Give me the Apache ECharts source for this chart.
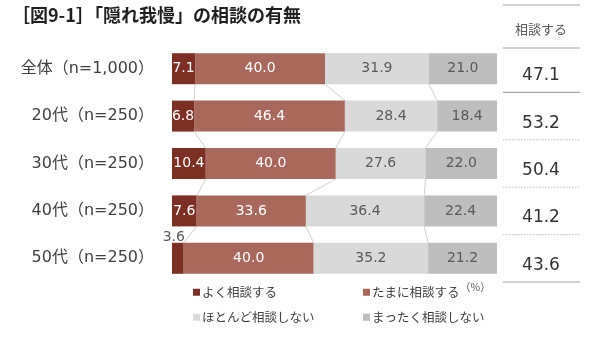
<!DOCTYPE html>
<html><head><meta charset="utf-8">
<script src="https://cdn.jsdelivr.net/npm/echarts@6/dist/echarts.min.js"></script>
<style>html,body{margin:0;padding:0;background:#fff}#c{width:600px;height:341px}</style>
</head><body><div id="c"></div>
<script>
const categories = ['全体（n=1,000）','20代（n=250）','30代（n=250）','40代（n=250）','50代（n=250）'];
const seriesNames = ['よく相談する','たまに相談する','ほとんど相談しない','まったく相談しない'];
const often = [7.1, 6.8, 10.4, 7.6, 3.6];
const sometimes = [40.0, 46.4, 40.0, 33.6, 40.0];
const rarely = [31.9, 28.4, 27.6, 36.4, 35.2];
const never = [21.0, 18.4, 22.0, 22.4, 21.2];
const consultTotal = [47.1, 53.2, 50.4, 41.2, 43.6];
const tableHeader = '相談する';
const titleText = '［図9-1］「隠れ我慢」の相談の有無';

const colors = ['#7E2F23', '#A8695C', '#D9D9D9', '#BEBEBE'];
const labelColors = ['#fff', '#fff', '#595959', '#595959'];
const values = [often, sometimes, rarely, never];
const JP = '"Noto Sans CJK JP", sans-serif';
const MIX = '"DejaVu Sans", "Noto Sans CJK JP", sans-serif';
const NUM = '"DejaVu Sans", sans-serif';

const gridTop = 45, gridBottom = 59, gridLeft = 172, gridRight = 103;
const H = 341;
const band = (H - gridTop - gridBottom) / categories.length;
const BARW = 31;

const barSeries = values.map((arr, s) => ({
  name: seriesNames[s], type: 'bar', stack: 'a', barWidth: BARW,
  itemStyle: { color: colors[s] },
  label: { show: true, position: 'inside', color: labelColors[s], fontSize: 14, fontFamily: NUM,
           formatter: p => p.value.toFixed(1) },
  data: arr.map((v, i) => {
    if (s === 0 && v < 5) {
      return { value: v, label: { position: 'top', distance: 0, offset: [-4, 2], color: '#595959' } };
    }
    return v;
  })
}));

// connector lines between consecutive bars
const connector = {
  type: 'custom', silent: true, z: 1,
  data: categories.slice(0, -1).map((c, i) => [0, i]),
  renderItem: function (params, api) {
    const i = params.dataIndex;
    const children = [];
    let cumA = 0, cumB = 0;
    for (let k = 0; k < 3; k++) {
      cumA += values[k][i]; cumB += values[k][i + 1];
      const p1 = api.coord([cumA, i]);
      const p2 = api.coord([cumB, i + 1]);
      children.push({ type: 'line', shape: { x1: p1[0], y1: p1[1] + BARW / 2, x2: p2[0], y2: p2[1] - BARW / 2 },
        style: { stroke: '#D0D0D0', lineWidth: 1 } });
    }
    return { type: 'group', children };
  }
};

const legends = seriesNames.map((n, s) => ({
  data: [n], left: s % 2 === 0 ? 188 : 358, top: s < 2 ? 281 : 306,
  itemWidth: 7, itemHeight: 7, itemGap: 4, icon: 'rect', selectedMode: false,
  textStyle: { fontSize: 12.5, color: '#404040', fontFamily: JP, padding: [0, 0, 0, -3] }
}));

// table graphics
const tx0 = 503, tx1 = 580, tcx = 541;
const graphics = [
  { type: 'text', left: 12, top: 6, style: { text: titleText, fontSize: 18, fontWeight: 'bold', fill: '#1F1F1F', fontFamily: JP } },
  { type: 'text', left: 460, top: 282, style: { text: '（%）', fontSize: 10.5, fill: '#595959', fontFamily: JP } },
  { type: 'line', shape: { x1: tx0, y1: 5, x2: tx1, y2: 5 }, style: { stroke: '#A6A6A6', lineWidth: 1.2 } },
  { type: 'text', x: tcx, y: 29, style: { text: tableHeader, fontSize: 13, fill: '#595959', fontFamily: JP, textAlign: 'center', textVerticalAlign: 'middle' } },
  { type: 'line', shape: { x1: tx0, y1: 48, x2: tx1, y2: 48 }, style: { stroke: '#A6A6A6', lineWidth: 1.2 } }
];
consultTotal.forEach((v, i) => {
  const cy = gridTop + band * (i + 0.5) + 7;
  graphics.push({ type: 'text', x: tcx, y: cy, style: { text: v.toFixed(1), fontSize: 17, fill: '#333333', fontFamily: NUM, textAlign: 'center', textVerticalAlign: 'middle' } });
  const ly = gridTop + band * (i + 1);
  const last = i === consultTotal.length - 1;
  const solid = i === 0 || last;
  graphics.push({ type: 'line', shape: { x1: tx0, y1: ly, x2: tx1, y2: ly },
    style: { stroke: solid ? '#A6A6A6' : '#BFBFBF', lineWidth: solid ? 1.2 : 1, lineDash: solid ? null : [1.5, 1.5] } });
});

const chart = echarts.init(document.getElementById('c'));
chart.setOption({
  animation: false,
  grid: { left: gridLeft, right: gridRight, top: gridTop, bottom: gridBottom },
  xAxis: { type: 'value', min: 0, max: 100, show: false },
  yAxis: { type: 'category', data: categories, inverse: true,
    axisLine: { show: false }, axisTick: { show: false },
    axisLabel: { margin: 18, fontSize: 16, color: '#404040', fontFamily: MIX } },
  legend: legends,
  series: [...barSeries, connector],
  graphic: graphics
});
</script></body></html>
